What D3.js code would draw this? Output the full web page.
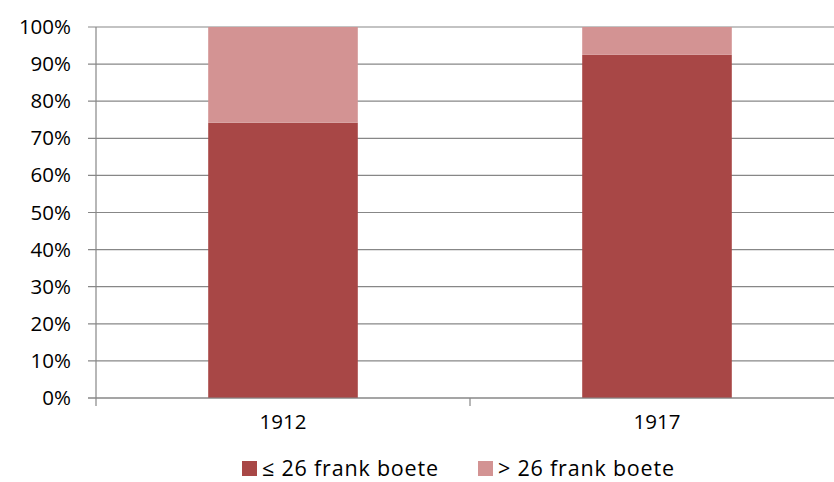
<!DOCTYPE html>
<html lang="nl">
<head>
<meta charset="utf-8" />
<title>Boetes 1912 - 1917</title>
<script src="https://d3js.org/d3.v7.js"></script>
<style>
    body, html { margin: 0; background: #fff; }
    text { font-family: "Open Sans", Lato, sans-serif; fill: #000; }
</style>
</head>
<body>
<div id="canvas"></div>
<script>
    // data
    var years = ["1912", "1917"];
    var seriesNames = ["≤ 26 frank boete", "> 26 frank boete"];
    var lowFine = [0.742, 0.925];
    var highFine = [0.258, 0.075];
    var yTicks = [0, 0.1, 0.2, 0.3, 0.4, 0.5, 0.6, 0.7, 0.8, 0.9, 1];
    var colors = ["#A84746", "#D39393"];

    var W = 834, H = 482;
    var margin = {top: 27, right: -10, bottom: 84, left: 96},
        width = W - margin.left - margin.right,
        height = H - margin.top - margin.bottom;
    var fs = "20.5px";

    var svg = d3.select("#canvas").append("svg")
        .attr("width", W).attr("height", H);
    var g = svg.append("g")
        .attr("transform", "translate(" + margin.left + "," + margin.top + ")");

    var x = d3.scaleBand().domain(years).range([0, width]).paddingInner(0).paddingOuter(0);
    var y = d3.scaleLinear().domain([0, 1]).range([height, 0]);

    // gridlines
    g.selectAll(".grid").data(yTicks).enter().append("line")
        .attr("x1", -8).attr("x2", width)
        .attr("y1", function(d) { return y(d); })
        .attr("y2", function(d) { return y(d); })
        .attr("stroke", "#878787").attr("stroke-width", 1.2);

    // stacked bars
    var rows = years.map(function(yr, i) { return {year: yr, a: lowFine[i], b: highFine[i]}; });
    var stack = d3.stack().keys(["a", "b"])(rows);
    var bw = x.bandwidth() * 0.4;
    g.selectAll(".layer").data(stack).enter().append("g")
        .attr("fill", function(d, i) { return colors[i]; })
        .selectAll("rect").data(function(d) { return d; }).enter().append("rect")
        .attr("x", function(d) { return x(d.data.year) + (x.bandwidth() - bw) / 2; })
        .attr("width", bw)
        .attr("y", function(d) { return y(d[1]); })
        .attr("height", function(d) { return y(d[0]) - y(d[1]); });

    // y axis
    var yAxis = g.append("g").call(d3.axisLeft(y).tickValues(yTicks).tickFormat(d3.format(".0%")).tickSize(0).tickPadding(25));
    yAxis.select(".domain").remove();
    yAxis.selectAll("text").style("font-size", fs);
    g.append("line").attr("x1", 0).attr("x2", 0).attr("y1", 0).attr("y2", height)
        .attr("stroke", "#878787").attr("stroke-width", 1.2);

    // x axis
    var xAxis = g.append("g").attr("transform", "translate(0," + height + ")")
        .call(d3.axisBottom(x).tickSize(0).tickPadding(16));
    xAxis.select(".domain").remove();
    xAxis.selectAll("text").style("font-size", fs);
    g.append("line").attr("x1", -8).attr("x2", width).attr("y1", height).attr("y2", height)
        .attr("stroke", "#878787").attr("stroke-width", 1.2);
    g.selectAll(".xtick").data([0, 1, 2]).enter().append("line")
        .attr("x1", function(d) { return d * x.bandwidth(); })
        .attr("x2", function(d) { return d * x.bandwidth(); })
        .attr("y1", height).attr("y2", height + 8)
        .attr("stroke", "#878787").attr("stroke-width", 1.2);

    // legend
    var legendX = [242, 478];
    var lg = svg.selectAll(".legend").data(seriesNames).enter().append("g")
        .attr("transform", function(d, i) { return "translate(" + legendX[i] + ",461)"; });
    lg.append("rect").attr("width", 15).attr("height", 15)
        .attr("fill", function(d, i) { return colors[i]; });
    lg.append("text").attr("x", 20).attr("y", 14.5)
        .style("font-size", "21.5px")
        .style("letter-spacing", "0.8px")
        .text(function(d) { return d; });
</script>
</body>
</html>
